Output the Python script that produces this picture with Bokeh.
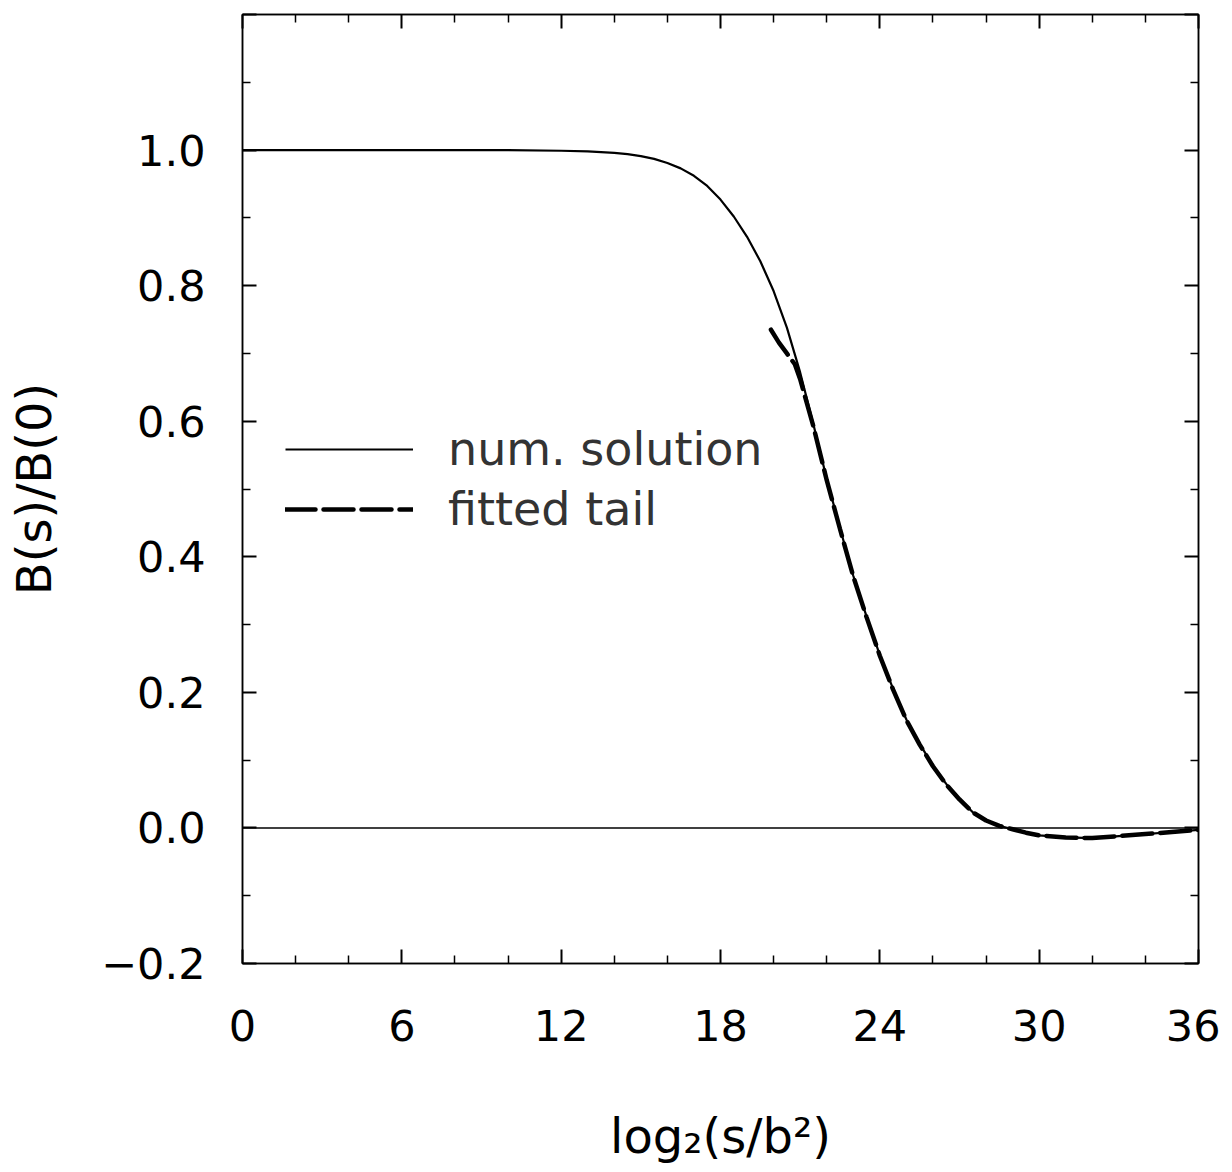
from bokeh.plotting import figure
from bokeh.models import FixedTicker, LinearAxis, Span, Legend, LegendItem, Range1d
from bokeh.embed import file_html
from bokeh.resources import INLINE

# numerical solution B(s)/B(0) vs log2(s/b^2)
x_num = [0, 2, 4, 6, 8, 10, 12, 13, 14, 14.5, 15, 15.5, 16, 16.5, 17, 17.5, 18, 18.5,
         19, 19.5, 20, 20.5, 21, 21.5, 22, 22.5, 23, 23.5, 24, 24.5, 25, 25.5, 26,
         26.5, 27, 27.5, 28, 28.5, 29, 29.5, 30, 31, 32, 33, 34, 35, 36]
y_num = [1.0, 1.0, 1.0, 1.0, 1.0, 1.0, 0.999, 0.998, 0.996, 0.994, 0.991, 0.987,
         0.981, 0.973, 0.962, 0.947, 0.927, 0.902, 0.872, 0.836, 0.792, 0.738,
         0.672, 0.595, 0.515, 0.442, 0.372, 0.312, 0.255, 0.205, 0.160, 0.124,
         0.092, 0.065, 0.043, 0.023, 0.011, 0.003, -0.002, -0.007, -0.011, -0.014,
         -0.015, -0.012, -0.009, -0.006, -0.003]

# fitted tail
x_fit = [19.9, 20.2, 20.5, 20.8, 21, 21.5, 22, 22.5, 23, 23.5, 24, 24.5, 25, 25.5,
         26, 26.5, 27, 27.5, 28, 28.5, 29, 29.5, 30, 31, 32, 33, 34, 35, 36]
y_fit = [0.735, 0.716, 0.700, 0.684, 0.662, 0.592, 0.513, 0.441, 0.371, 0.311,
         0.254, 0.204, 0.159, 0.123, 0.091, 0.064, 0.042, 0.023, 0.011, 0.003,
         -0.002, -0.007, -0.011, -0.014, -0.015, -0.012, -0.009, -0.006, -0.003]

x_major = [0, 6, 12, 18, 24, 30, 36]
x_minor = [2, 4, 8, 10, 14, 16, 20, 22, 26, 28, 32, 34]
y_major = [-0.2, 0.0, 0.2, 0.4, 0.6, 0.8, 1.0, 1.2]
y_minor = [-0.1, 0.1, 0.3, 0.5, 0.7, 0.9, 1.1]
y_labels = {-0.2: "\u22120.2", 0.0: "0.0", 0.2: "0.2", 0.4: "0.4", 0.6: "0.6",
            0.8: "0.8", 1.0: "1.0", 1.2: ""}
x_labels = {v: str(v) for v in x_major}

FONT = "DejaVu Sans"

p = figure(width=1220, height=1166, x_range=Range1d(0, 36), y_range=Range1d(-0.2, 1.2),
           output_backend="svg", toolbar_location=None,
           min_border_left=242, min_border_right=22, min_border_top=14, min_border_bottom=196,
           x_axis_location=None, y_axis_location=None)
p.grid.visible = False
p.outline_line_color = "black"
p.outline_line_width = 1.5
p.background_fill_color = "white"
p.border_fill_color = "white"


def style_axis(ax, labels, show_labels):
    ax.axis_line_color = "black"
    ax.axis_line_width = 1.5
    ax.major_tick_line_color = "black"
    ax.major_tick_line_width = 2
    ax.minor_tick_line_color = "black"
    ax.minor_tick_line_width = 1.5
    ax.major_tick_in = 14
    ax.major_tick_out = 0
    ax.minor_tick_in = 8
    ax.minor_tick_out = 0
    ax.major_label_overrides = labels
    ax.major_label_text_font = FONT
    ax.major_label_text_font_size = "43px"
    ax.major_label_text_color = "black"
    if not show_labels:
        ax.major_label_text_alpha = 0
        ax.major_label_text_font_size = "1px"
        ax.major_label_standoff = 0


xt = FixedTicker(ticks=x_major, minor_ticks=x_minor)
yt = FixedTicker(ticks=y_major, minor_ticks=y_minor)

xb = LinearAxis(ticker=xt, axis_label="log\u2082(s/b\u00b2)")
style_axis(xb, x_labels, True)
xb.major_label_standoff = 46
xb.axis_label_text_font = FONT
xb.axis_label_text_font_size = "48px"
xb.axis_label_text_font_style = "normal"
xb.axis_label_text_color = "black"
xb.axis_label_standoff = 64
p.add_layout(xb, "below")

xa = LinearAxis(ticker=FixedTicker(ticks=x_major, minor_ticks=x_minor))
style_axis(xa, x_labels, False)
p.add_layout(xa, "above")

yl = LinearAxis(ticker=yt, axis_label="B(s)/B(0)")
style_axis(yl, y_labels, True)
yl.major_label_standoff = 37
yl.axis_label_text_font = FONT
yl.axis_label_text_font_size = "48px"
yl.axis_label_text_font_style = "normal"
yl.axis_label_text_color = "black"
yl.axis_label_standoff = 36
p.add_layout(yl, "left")

yr = LinearAxis(ticker=FixedTicker(ticks=y_major, minor_ticks=y_minor))
style_axis(yr, y_labels, False)
p.add_layout(yr, "right")

p.add_layout(Span(location=0, dimension="width", line_color="black", line_width=1.5))

r_num = p.line(x_num, y_num, line_color="black", line_width=2.2)
r_fit = p.line(x_fit, y_fit, line_color="black", line_width=4.5, line_dash="30 8",
               line_cap="round")

legend = Legend(items=[LegendItem(label="num. solution", renderers=[r_num]),
                       LegendItem(label="fitted tail", renderers=[r_fit])],
                location=(43, 427), glyph_width=128, glyph_height=40, label_height=40,
                spacing=6, label_standoff=35, padding=0, margin=0,
                border_line_color=None, background_fill_alpha=0,
                label_text_font=FONT, label_text_font_size="46px",
                label_text_color="#333333")
p.add_layout(legend)

open("out.html", "w").write(file_html(p, INLINE))
